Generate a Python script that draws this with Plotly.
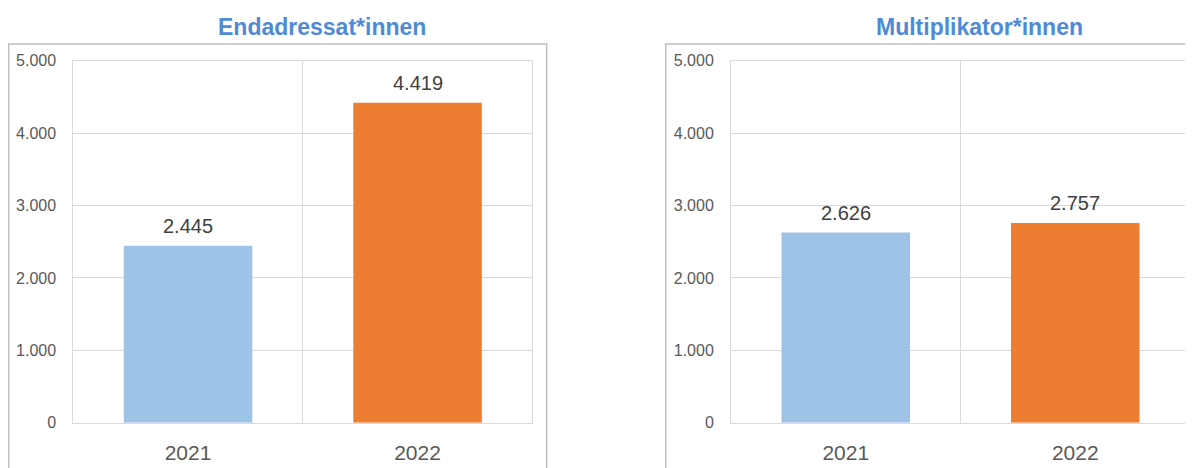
import plotly.graph_objects as go

W, H = 1193, 468
OFF = 8  # page body margin offset of the figure in the browser

years = ["2021", "2022"]
end_values = [2445, 4419]
multi_values = [2626, 2757]
titles = ["Endadressat*innen", "Multiplikator*innen"]
y_ticks = [0, 1000, 2000, 3000, 4000, 5000]
bar_colors = ["#9DC3E6", "#ED7D31"]

def px_x(p):
    return (p - OFF) / W

def px_y(p):
    return 1 - (p - OFF) / H

fig = go.Figure()

series = [end_values, multi_values]
axes = [("x", "y"), ("x2", "y2")]
for vals, (xa, ya) in zip(series, axes):
    fig.add_trace(go.Bar(
        x=years, y=vals, xaxis=xa, yaxis=ya,
        marker=dict(color=bar_colors, line=dict(width=0)),
        width=0.56, showlegend=False, hoverinfo="skip",
    ))
    for i, v in enumerate(vals):
        fig.add_annotation(
            x=i, y=v, xref=xa, yref=ya, text=f"{v:,}".replace(",", "."),
            showarrow=False, yanchor="bottom", yshift=7,
            font=dict(family="Liberation Sans", size=20, color="#404040"),
        )

grid = "#D9D9D9"
ydom = [px_y(422.7), px_y(60.7)]
xdoms = [[px_x(73.3), px_x(532.3)], [px_x(731), px_x(1190)]]

common_x = dict(type="category", range=[-0.5, 1.5], tickson="boundaries",
                showgrid=True, gridcolor=grid, gridwidth=1, ticks="",
                showline=True, linecolor=grid, linewidth=1, mirror=True,
                tickfont=dict(family="Liberation Sans", size=21, color="#595959"),
                ticklabelstandoff=11, fixedrange=True, automargin=False)
common_y = dict(range=[0, 5000], tickvals=y_ticks, tickformat=",.0f",
                showgrid=True, gridcolor=grid, gridwidth=1, zeroline=False,
                showline=True, linecolor=grid, linewidth=1, mirror=True,
                ticks="", ticklabelstandoff=13, automargin=False,
                tickfont=dict(family="Liberation Sans", size=16, color="#595959"),
                fixedrange=True)

fig.update_layout(
    width=W, height=H, margin=dict(l=0, r=0, t=0, b=0, pad=0),
    paper_bgcolor="white", plot_bgcolor="white", separators=",.",
    xaxis=dict(domain=xdoms[0], anchor="y", **common_x),
    yaxis=dict(domain=ydom, anchor="x", **common_y),
    xaxis2=dict(domain=xdoms[1], anchor="y2", **common_x),
    yaxis2=dict(domain=ydom, anchor="x2", **common_y),
    bargap=0.44,
)

# Titles
for t, cx in zip(titles, [322, 979]):
    fig.add_annotation(x=px_x(cx), y=px_y(27), xref="paper", yref="paper",
                       text=f"<b>{t}</b>", showarrow=False,
                       xanchor="center", yanchor="middle",
                       font=dict(family="Liberation Sans", size=23, color="#4F8AD6"))

# Panel borders
for x0, x1 in [(8.7, 546.7), (665.7, 1220)]:
    fig.add_shape(type="rect", xref="paper", yref="paper",
                  x0=px_x(x0), x1=px_x(x1), y0=-0.1, y1=px_y(44),
                  line=dict(color="#BFBFBF", width=1.5), layer="below")

fig.write_html("out.html")
